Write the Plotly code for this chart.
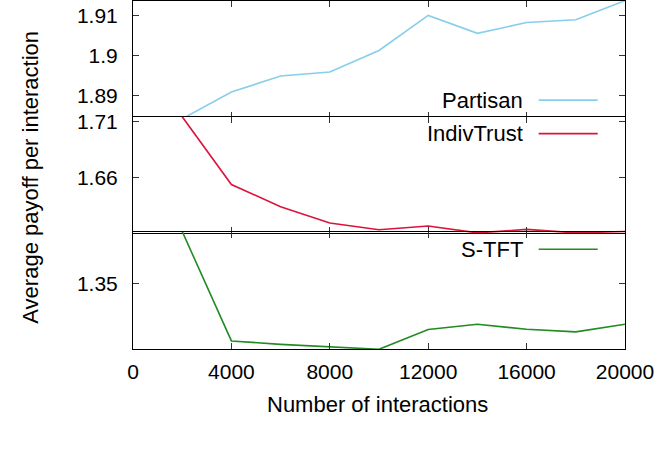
import plotly.graph_objects as go
from plotly.subplots import make_subplots

interactions = [2000, 4000, 6000, 8000, 10000, 12000, 14000, 16000, 18000, 20000]
partisan = [1.8842, 1.8909, 1.8949, 1.8959, 1.9013, 1.9101, 1.9056, 1.9083, 1.9090, 1.9138]
indiv_trust = [1.7145, 1.6541, 1.6343, 1.6198, 1.6138, 1.6171, 1.6110, 1.6141, 1.6110, 1.6123]
s_tft = [1.3865, 1.3104, 1.3080, 1.3064, 1.3046, 1.3183, 1.3220, 1.3185, 1.3167, 1.3220]

series_names = ["Partisan", "IndivTrust", "S-TFT"]
series_values = [partisan, indiv_trust, s_tft]
series_colors = ["#87CEEB", "#DC143C", "#228B22"]
y_ranges = [[1.8844, 1.9137], [1.6109, 1.7142], [1.3048, 1.3861]]
y_tickvals = [[1.89, 1.90, 1.91], [1.66, 1.71], [1.35]]
y_ticktext = [["1.89", "1.9", "1.91"], ["1.66", "1.71"], ["1.35"]]
x_tickvals = [0, 4000, 8000, 12000, 16000, 20000]
x_ticktext = ["0", "4000", "8000", "12000", "16000", "20000"]
x_title = "Number of interactions"
y_title = "Average payoff per interaction"

FONT = "Liberation Sans, Arial, sans-serif"

fig = make_subplots(rows=3, cols=1, shared_xaxes=True, vertical_spacing=0)

PLOT_H = 348.0
px = 1.0 / PLOT_H
domains = [[231 * px, 1.0], [116 * px, 232 * px], [0.0, 117 * px]]
legend_ypos = [0.153, 0.857, 0.853]

for i, (name, vals, col) in enumerate(zip(series_names, series_values, series_colors)):
    r = i + 1
    fig.add_trace(go.Scatter(x=interactions, y=vals, mode="lines", name=name,
                             line=dict(color=col, width=1.6), showlegend=False),
                  row=r, col=1)
    fig.update_yaxes(range=y_ranges[i], tickvals=y_tickvals[i], ticktext=y_ticktext[i],
                     domain=domains[i],
                     ticks="inside", ticklen=6, tickcolor="#333", tickwidth=1,
                     showline=True, linecolor="black", linewidth=1, mirror="ticks",
                     showgrid=False, zeroline=False, ticklabelstandoff=10,
                     automargin=False,
                     tickfont=dict(family=FONT, size=21, color="black"),
                     row=r, col=1)
    fig.update_xaxes(range=[0, 20000], tickvals=x_tickvals, ticktext=x_ticktext,
                     ticks="inside", ticklen=6, tickcolor="#333", tickwidth=1,
                     showline=True, linecolor="black", linewidth=1, mirror="ticks",
                     showgrid=False, zeroline=False, showticklabels=(r == 3),
                     ticklabelstandoff=4, automargin=False,
                     tickfont=dict(family=FONT, size=21, color="black"),
                     row=r, col=1)
    yref = "y domain" if r == 1 else f"y{r} domain"
    xref = "x domain" if r == 1 else f"x{r} domain"
    fig.add_annotation(text=name, xref=xref, yref=yref, x=0.797, y=legend_ypos[i],
                       xanchor="right", yanchor="middle", showarrow=False,
                       font=dict(family=FONT, size=22, color="black"))
    fig.add_shape(type="line", xref=xref, yref=yref, x0=0.8246, x1=0.9445,
                  y0=legend_ypos[i], y1=legend_ypos[i],
                  line=dict(color=col, width=1.6))

fig.add_annotation(text=x_title, xref="paper", yref="paper", x=0.4974, y=-0.1604,
                   xanchor="center", yanchor="middle", showarrow=False,
                   font=dict(family=FONT, size=22, color="black"))
fig.add_annotation(text=y_title, xref="paper", yref="paper", x=-0.2077, y=0.4947,
                   xanchor="center", yanchor="middle", showarrow=False, textangle=-90,
                   font=dict(family=FONT, size=22, color="black"))

fig.update_layout(width=664, height=465, margin=dict(l=133, r=39, t=1, b=116, autoexpand=False),
                  paper_bgcolor="white", plot_bgcolor="white",
                  font=dict(family=FONT, size=21, color="black"))

fig.write_html("out.html", config={"displayModeBar": False},
               post_script="document.body.style.margin='0';")
